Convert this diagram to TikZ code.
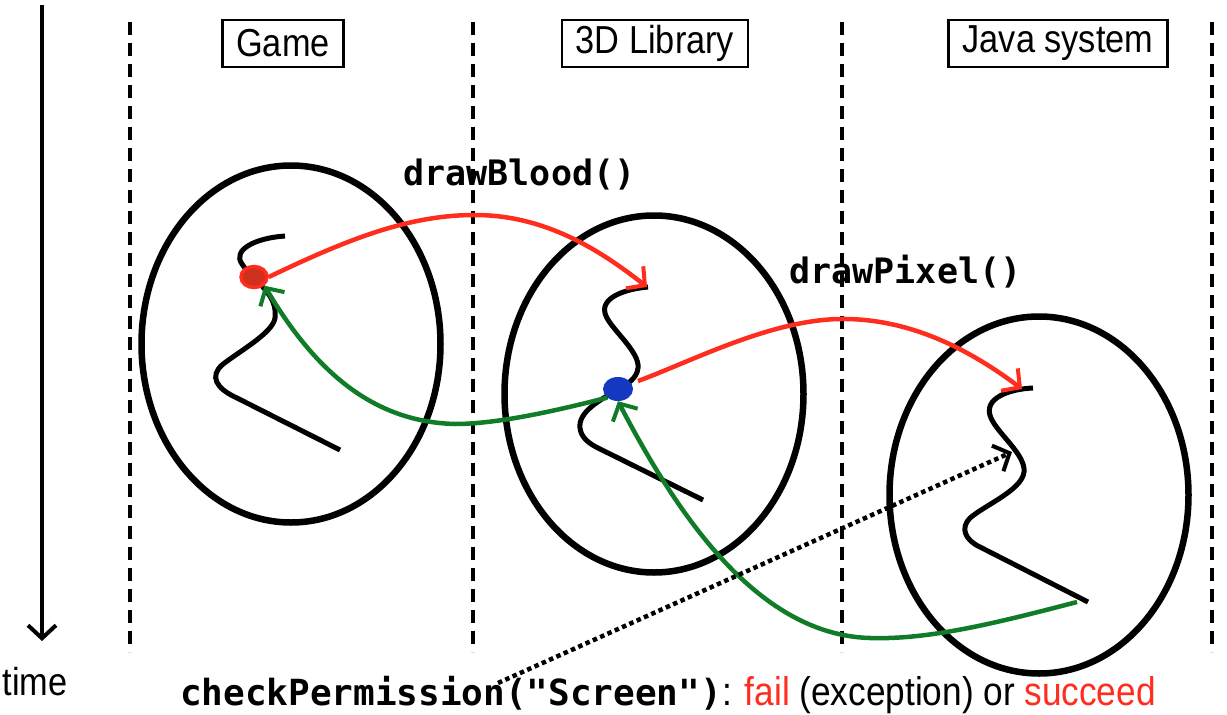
\documentclass[tikz,border=0pt]{standalone}
\usepackage{fontspec}
\setmainfont{Liberation Sans}
\newfontfamily\narrowsans{Liberation Sans}[FakeStretch=0.88]
\newfontfamily\codefont{DejaVu Sans Mono}
\usetikzlibrary{arrows.meta,shapes.geometric}
\definecolor{myred}{RGB}{255,45,30}
\definecolor{dotred}{RGB}{208,48,30}
\definecolor{mygreen}{RGB}{16,124,40}
\definecolor{myblue}{RGB}{20,56,192}
\begin{document}
\begin{tikzpicture}[x=1pt,y=-1pt,
  lifeline/.style={line width=3.5pt, dash pattern=on 13pt off 8pt},
  actor/.style={draw, line width=2.5pt, inner xsep=14pt, inner ysep=0pt, minimum height=47pt, font=\narrowsans\fontsize{39}{44}\selectfont},
  ctx/.style={draw, ellipse, line width=6.5pt, inner sep=0pt, minimum width=299pt, minimum height=357pt},
  thread/.style={line width=5pt, line cap=butt},
  barb/.style={-{Straight Barb[length=13pt,width=28pt,line width=4pt]}},
  call/.style={myred, line width=4.5pt, barb},
  ret/.style={mygreen, line width=4.5pt, barb},
  code/.style={font=\codefont\bfseries\fontsize{35}{40}\selectfont},
  txt/.style={font=\narrowsans\fontsize{39}{44}\selectfont}
]
\useasboundingbox (0,0) rectangle (1227,715);

% time axis
\coordinate (t0) at (42,5);
\coordinate (t1) at (42,641);
\draw[line width=4pt, barb] (t0) -- (t1);
\node[txt, anchor=base] (time) at (35,695) {time};

% lifelines
\foreach \x/\n in {130/l1,473/l2,842/l3,1212/l4}{
  \coordinate (\n a) at (\x,22);
  \coordinate (\n b) at (\x,652);
  \draw[lifeline] (\n a) -- (\n b);
}

% actor boxes
\node[actor] (game) at (283,43.5) {Game};
\node[actor] (lib) at (655,43.5) {3D Library};
\node[actor] (java) at (1058,43.5) {Java system};

% contexts
\node[ctx] (e1) at (291,344) {};
\node[ctx] (e2) at (654,394) {};
\node[ctx] (e3) at (1039,495) {};

% threads
\draw[thread] (285,236) .. controls (255,238) and (232,250) .. (242,264)
  .. controls (246,270) and (250,274) .. (254,278)
  .. controls (266,290) and (277,300) .. (275,318)
  .. controls (273,333) and (238,352) .. (222,365)
  .. controls (210,376) and (215,388) .. (237,398) -- (340,450);
\draw[thread] (648,287) .. controls (625,289) and (598,298) .. (606,316)
  .. controls (612,330) and (640,352) .. (638,368)
  .. controls (637,378) and (628,384) .. (617,390)
  .. controls (600,400) and (578,412) .. (580,428)
  .. controls (581,438) and (590,444) .. (598,448) -- (703,500);
\draw[thread] (1033,388) .. controls (1010,389) and (982,398) .. (991,418)
  .. controls (998,434) and (1026,455) .. (1024,472)
  .. controls (1022,490) and (985,505) .. (970,518)
  .. controls (960,528) and (965,540) .. (980,547) -- (1088,602);

% points of interest
\coordinate (s2top) at (647,287);
\coordinate (s3top) at (1022,389);
\coordinate (s3end) at (1077,602);
\coordinate (perm) at (1012,452);
\coordinate (bstart) at (638,381);
\node[draw=myred, fill=dotred, line width=3.5pt, ellipse, inner sep=0pt, minimum width=26pt, minimum height=21pt] (rdot) at (254,277) {};
\node[fill=myblue, ellipse, inner sep=0pt, minimum width=30pt, minimum height=24pt] (bdot) at (618,389) {};

% calls
\draw[call] (rdot.east) .. controls (350,238) and (410,215) .. (475,215)
  .. controls (545,215) and (600,250) .. (s2top);
\draw[call] (bstart) .. controls (690,362) and (770,320) .. (840,319)
  .. controls (910,318) and (970,350) .. (s3top);
\node[code, anchor=base west] (lblood) at (400,185) {drawBlood()};
\node[code, anchor=base west] (lpixel) at (786,283) {drawPixel()};

% returns
\draw[ret] (bdot.south west) .. controls (540,415) and (490,424) .. (455,424)
  .. controls (380,422) and (320,380) .. (rdot.south east);
\draw[ret] (s3end) .. controls (1000,622) and (930,640) .. (870,638)
  .. controls (760,635) and (680,520) .. (bdot.south);

% permission check
\node[anchor=base west, inner sep=0pt] (check) at (180,705) {{\codefont\bfseries\fontsize{36}{40}\selectfont checkPermission("Screen")}\narrowsans\fontsize{40}{44}\selectfont: \textcolor{myred}{fail} (exception) or \textcolor{myred}{succeed}};
\coordinate (cstart) at (498,683);
\draw[line width=4.5pt, dash pattern=on 4.5pt off 3.5pt, barb] (cstart) -- (perm);
\end{tikzpicture}
\end{document}
